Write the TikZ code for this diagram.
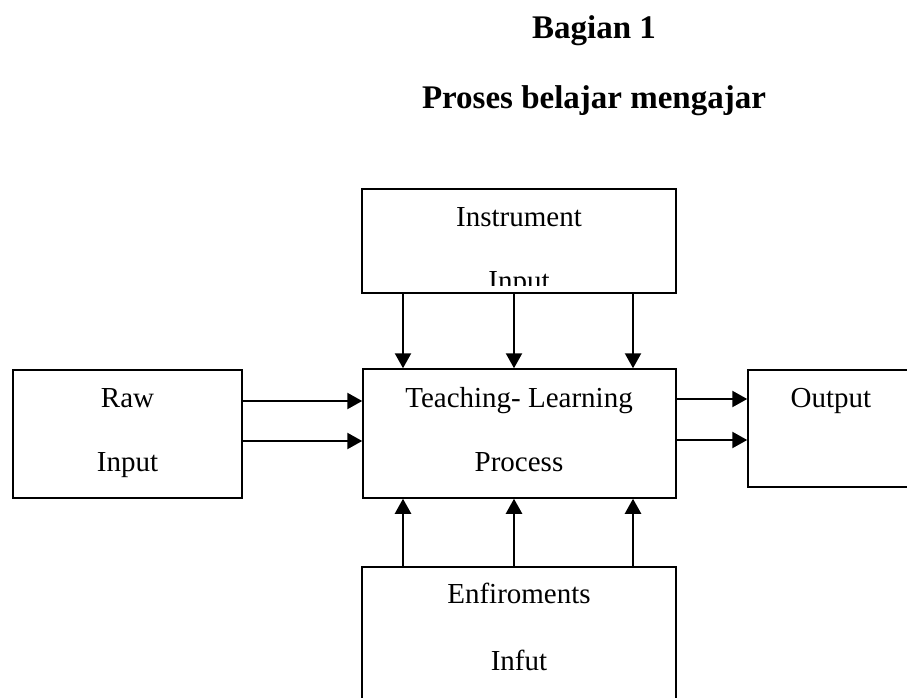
\documentclass[tikz,border=0pt]{standalone}
\usepackage{fontspec}
\setmainfont{Liberation Serif}
\usetikzlibrary{arrows.meta,positioning}

\tikzset{
  box/.style={draw=black, line width=1.5pt, inner sep=0pt},
  lbl/.style={anchor=base, inner sep=0pt, font=\fontsize{29}{34}\selectfont},
  ttl/.style={anchor=base, inner sep=0pt, font=\fontsize{33}{38}\selectfont\bfseries},
  arr/.style={line width=2.3pt, -{Triangle[length=15pt,width=16pt]}}
}

\begin{document}
\begin{tikzpicture}[x=1pt, y=-1pt]
  \clip (0,0) rectangle (907,698);
  \fill[white] (0,0) rectangle (907,698);

  %% ---------- title ----------
  \node[ttl] (t1) at (594,39)  {Bagian 1};
  \node[ttl] (t2) at (594,109) {Proses belajar mengajar};

  %% ---------- boxes ----------
  \node[box, minimum width=314pt, minimum height=104pt] (instr) at (519,241)   {};
  \node[box, minimum width=313pt, minimum height=129pt] (proc)  at (519.5,433.5) {};
  \node[box, minimum width=229pt, minimum height=128pt] (raw)   at (127.5,434) {};
  \node[box, minimum width=182pt, minimum height=117pt] (out)   at (839,428.5) {};
  \node[box, minimum width=314pt, minimum height=153pt] (env)   at (519,643.5) {};

  %% ---------- labels ----------
  \node[lbl] (instrA) at (519,226) {Instrument};
  \begin{scope}
    \clip ([yshift=8pt]instr.south west) rectangle (instr.north east);
    \node[lbl] (instrB) at (519,290) {Input};
  \end{scope}
  \node[lbl] (procA) at (519,407) {Teaching- Learning};
  \node[lbl] (procB) at (519,471) {Process};
  \node[lbl] (rawA)  at (127.5,407) {Raw};
  \node[lbl] (rawB)  at (127.5,471) {Input};
  \node[lbl] (outA)  at (831,407) {Output};
  \node[lbl] (envA)  at (519,603) {Enfiroments};
  \node[lbl] (envB)  at (519,670) {Infut};

  %% ---------- connectors ----------
  \foreach \xx in {403,514,633}{
    \draw[arr] (\xx,0 |- instr.south) -- (\xx,0 |- proc.north);
    \draw[arr] (\xx,0 |- env.north) -- (\xx,0 |- proc.south);
  }
  \draw[arr] (raw.east |- 0,401) -- (proc.west |- 0,401);
  \draw[arr] (raw.east |- 0,441) -- (proc.west |- 0,441);
  \draw[arr] (proc.east |- 0,399) -- (out.west |- 0,399);
  \draw[arr] (proc.east |- 0,440) -- (out.west |- 0,440);
\end{tikzpicture}
\end{document}
